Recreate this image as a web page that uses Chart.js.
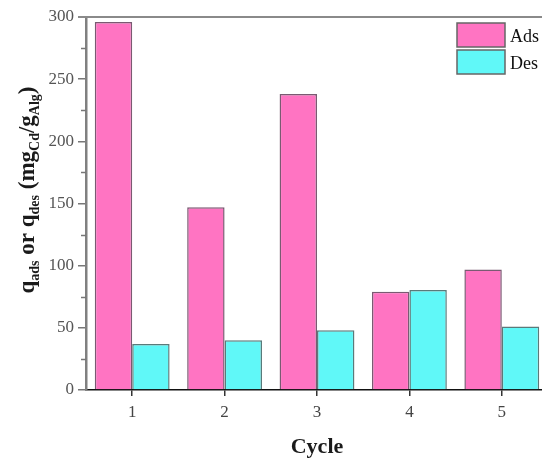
<!DOCTYPE html>
<html><head><meta charset="utf-8">
<script src="https://cdn.jsdelivr.net/npm/chart.js@4"></script>
<style>html,body{margin:0;padding:0;overflow:hidden;background:#fff}#wrap{width:560px;height:461px}</style>
</head><body><div id="wrap"><canvas id="c" width="560" height="461"></canvas></div>
<script>
const categories = ['1', '2', '3', '4', '5'];
const adsValues = [296, 147, 238, 79, 97];
const desValues = [37, 40, 48, 80.5, 51];
const seriesLabels = ['Ads', 'Des'];
const yTickValues = [0, 50, 100, 150, 200, 250, 300];
const yMinorTicks = [25, 75, 125, 175, 225, 275];
const xTitle = 'Cycle';

const SERIF = '"Liberation Serif", "Times New Roman", serif';
const pink = '#FF74C2';
const cyan = '#60F8F8';

const framePlugin = {
  id: 'frame',
  afterDraw(chart) {
    const ctx = chart.ctx, a = chart.chartArea, y = chart.scales.y;
    ctx.save();
    // top frame line
    ctx.strokeStyle = '#8a8a8a'; ctx.lineWidth = 2;
    ctx.beginPath(); ctx.moveTo(a.left - 8, a.top); ctx.lineTo(a.right, a.top); ctx.stroke();
    // minor ticks
    ctx.lineWidth = 1.5; ctx.strokeStyle = '#777';
    yMinorTicks.forEach(v => {
      const py = Math.round(y.getPixelForValue(v)) + 0.5;
      ctx.beginPath(); ctx.moveTo(a.left - 5, py); ctx.lineTo(a.left, py); ctx.stroke();
    });
    // legend
    const ds = chart.data.datasets;
    const lx = 457, ly = [23, 50];
    ds.forEach((d, i) => {
      ctx.fillStyle = d.backgroundColor;
      ctx.fillRect(lx, ly[i], 48, 24);
      ctx.strokeStyle = '#666'; ctx.lineWidth = 1.5;
      ctx.strokeRect(lx, ly[i], 48, 24);
      ctx.fillStyle = '#111';
      ctx.font = '18px ' + SERIF;
      ctx.textBaseline = 'alphabetic'; ctx.textAlign = 'left';
      ctx.fillText(d.label, lx + 53, ly[i] + 19);
    });
    // y axis title with subscripts
    const parts = [
      ['q', 0], ['ads', 1], [' or ', 0], ['q', 0], ['des', 1], [' (mg', 0], ['Cd', 1], ['/g', 0], ['Alg', 1], [')', 0]
    ];
    const mainF = 'bold 23px ' + SERIF, subF = 'bold 14px ' + SERIF;
    let total = 0;
    parts.forEach(p => { ctx.font = p[1] ? subF : mainF; total += ctx.measureText(p[0]).width; });
    ctx.translate(34, 190);
    ctx.rotate(-Math.PI / 2);
    ctx.fillStyle = '#1a1a1a'; ctx.textBaseline = 'alphabetic'; ctx.textAlign = 'left';
    let x = -total / 2;
    parts.forEach(p => {
      ctx.font = p[1] ? subF : mainF;
      ctx.fillText(p[0], x, p[1] ? 5 : 0);
      x += ctx.measureText(p[0]).width;
    });
    ctx.restore();
  }
};

new Chart(document.getElementById('c'), {
  type: 'bar',
  data: {
    labels: categories,
    datasets: [
      { label: seriesLabels[0], data: adsValues, backgroundColor: pink, borderColor: '#7a5a72', borderWidth: 1.5 },
      { label: seriesLabels[1], data: desValues, backgroundColor: cyan, borderColor: '#5a7a7a', borderWidth: 1.5 }
    ]
  },
  options: {
    responsive: false,
    animation: false,
    layout: { padding: { left: 0, right: 12, top: 17, bottom: 0 } },
    plugins: { legend: { display: false }, tooltip: { enabled: false } },
    datasets: { bar: { categoryPercentage: 0.81, barPercentage: 1.0 } },
    scales: {
      x: {
        offset: true,
        grid: { display: true, drawOnChartArea: false, offset: false, tickLength: 6, color: '#333', lineWidth: 1.5 },
        border: { display: true, color: '#111', width: 1.5 },
        ticks: { color: '#444', font: { family: SERIF, size: 17 }, padding: 6 },
        title: { display: true, text: xTitle, color: '#1a1a1a', font: { family: SERIF, size: 22, weight: 'bold' }, padding: { top: 4, bottom: 0 } },
        afterFit(s) { s.height = 71; }
      },
      y: {
        min: 0, max: 300,
        afterBuildTicks(s) { s.ticks = yTickValues.map(v => ({ value: v })); },
        grid: { display: true, drawOnChartArea: false, tickLength: 8, color: '#777', lineWidth: 1.5 },
        border: { display: true, color: '#808080', width: 2.5 },
        ticks: { color: '#555', font: { family: SERIF, size: 17 }, padding: 4 },
        afterFit(s) { s.width = 86; }
      }
    }
  },
  plugins: [framePlugin]
});
</script>
</body></html>
